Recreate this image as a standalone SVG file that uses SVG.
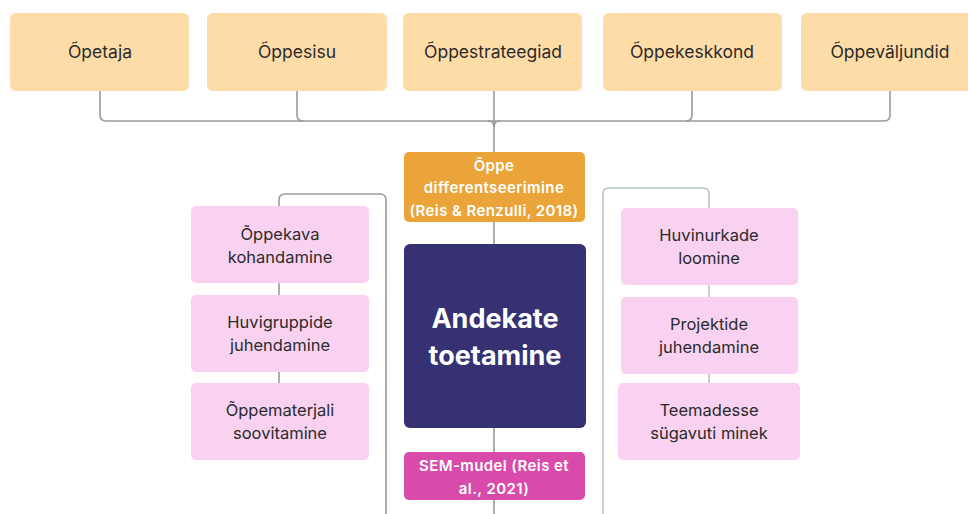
<svg xmlns="http://www.w3.org/2000/svg" width="968" height="514" viewBox="0 0 968 514">
<style>
.top{fill:#fddca8}
.pink{fill:#f8d2f0}
.t{font-family:Inter,"Liberation Sans",sans-serif;font-size:17.5px;fill:#2b2b2b;text-anchor:middle}
.s{font-family:Inter,"Liberation Sans",sans-serif;font-size:16.5px;fill:#2b2b2b;text-anchor:middle}
.w{font-family:Inter,"Liberation Sans",sans-serif;font-size:15px;font-weight:600;fill:#ffffff;text-anchor:middle;letter-spacing:0.4px}
.big{font-family:Inter,"Liberation Sans",sans-serif;font-size:27px;font-weight:700;fill:#ffffff;text-anchor:middle}
.ln{fill:none;stroke:#9a9a9a;stroke-width:1.6}
.lb{fill:none;stroke:#b8c3ca;stroke-width:1.6}
</style>
<rect width="968" height="514" fill="#ffffff"/>
<g id="connectors">
<path class="ln" d="M100 90 V115 Q100 121 106 121 H884 Q890 121 890 115 V90"/>
<path class="ln" d="M297 90 V115 Q297 121 303 121"/>
<path class="ln" d="M692 90 V115 Q692 121 686 121"/>
<path class="ln" d="M494 90 V152"/>
<path class="ln" d="M488 121 Q494 121 494 127 Q494 121 500 121"/>
<path class="ln" d="M494 222 V244"/>
<path class="ln" d="M494 428 V452"/>
<path class="ln" d="M494 500 V514"/>
<path class="ln" d="M279 207 V200 Q279 194 285 194 H380 Q386 194 386 200 V514"/>
<path class="ln" d="M279 283 V295"/>
<path class="ln" d="M279 372 V383"/>
<path class="lb" d="M603 514 V194 Q603 188 609 188 H703 Q709 188 709 194 V208"/>
<path class="lb" d="M709 285 V297"/>
<path class="lb" d="M709 374 V383"/>
</g>
<g id="n-opetaja"><rect class="top" x="10" y="13" width="179" height="78" rx="6"/><text class="t" x="100" y="58">Õpetaja</text></g>
<g id="n-oppesisu"><rect class="top" x="207" y="13" width="180" height="78" rx="6"/><text class="t" x="297" y="58">Õppesisu</text></g>
<g id="n-oppestrateegiad"><rect class="top" x="403" y="13" width="179" height="78" rx="6"/><text class="t" x="493" y="58">Õppestrateegiad</text></g>
<g id="n-oppekeskkond"><rect class="top" x="603" y="13" width="179" height="78" rx="6"/><text class="t" x="692" y="58">Õppekeskkond</text></g>
<g id="n-oppevaljundid"><rect class="top" x="801" y="13" width="180" height="78" rx="6"/><text class="t" x="890" y="58">Õppeväljundid</text></g>
<g id="n-diff"><rect x="404" y="152" width="181" height="70" rx="5" fill="#eba43a"/>
<text class="w" x="494" y="171">Õppe</text>
<text class="w" x="494" y="193">differentseerimine</text>
<text class="w" x="494" y="216">(Reis &amp; Renzulli, 2018)</text></g>
<g id="n-andekate"><rect x="404" y="244" width="182" height="184" rx="6" fill="#363172"/>
<text class="big" x="495" y="328">Andekate</text>
<text class="big" x="495" y="365">toetamine</text></g>
<g id="n-sem"><rect x="404" y="452" width="181" height="48" rx="5" fill="#d84bab"/>
<text class="w" x="494" y="471">SEM-mudel (Reis et</text>
<text class="w" x="494" y="494">al., 2021)</text></g>
<g id="n-oppekava"><rect class="pink" x="191" y="206" width="178" height="77" rx="5"/><text class="s" x="280" y="240">Õppekava</text><text class="s" x="280" y="263">kohandamine</text></g>
<g id="n-huvigruppide"><rect class="pink" x="191" y="295" width="178" height="77" rx="5"/><text class="s" x="280" y="328">Huvigruppide</text><text class="s" x="280" y="351">juhendamine</text></g>
<g id="n-oppematerjali"><rect class="pink" x="191" y="383" width="178" height="77" rx="5"/><text class="s" x="280" y="416">Õppematerjali</text><text class="s" x="280" y="439">soovitamine</text></g>
<g id="n-huvinurkade"><rect class="pink" x="621" y="208" width="177" height="77" rx="5"/><text class="s" x="709" y="241">Huvinurkade</text><text class="s" x="709" y="264">loomine</text></g>
<g id="n-projektide"><rect class="pink" x="621" y="297" width="177" height="77" rx="5"/><text class="s" x="709" y="330">Projektide</text><text class="s" x="709" y="353">juhendamine</text></g>
<g id="n-teemadesse"><rect class="pink" x="618" y="383" width="182" height="77" rx="5"/><text class="s" x="709" y="416">Teemadesse</text><text class="s" x="709" y="439">sügavuti minek</text></g>
</svg>
